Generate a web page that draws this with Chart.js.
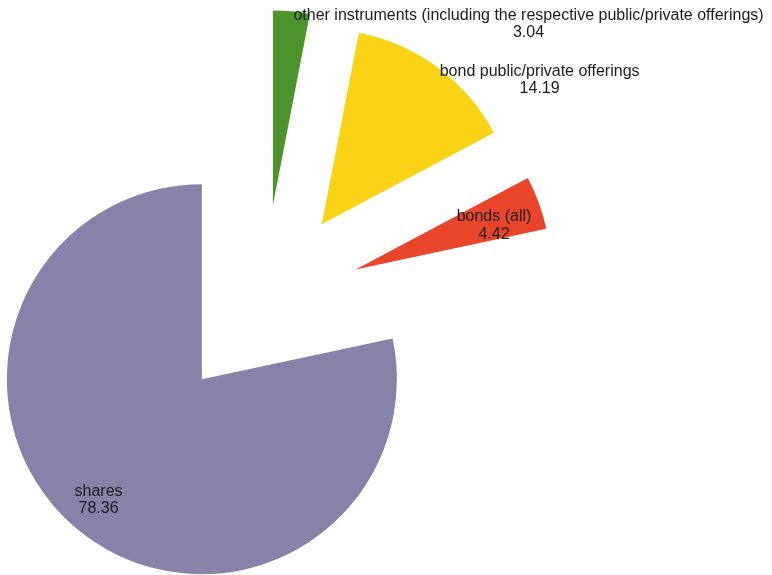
<!DOCTYPE html>
<html>
<head>
<meta charset="utf-8">
<script src="https://cdn.jsdelivr.net/npm/chart.js@4/dist/chart.umd.min.js"></script>
<style>
  html, body { margin:0; padding:0; background:#fff; }
  canvas { display:block; }
</style>
</head>
<body>
<canvas id="pie" width="772" height="575"></canvas>
<script>
// ── Data ────────────────────────────────────────────────────────────────────
const labels = [
  'other instruments (including the respective public/private offerings)',
  'bond public/private offerings',
  'bonds (all)',
  'shares'
];
const values = [3.04, 14.19, 4.42, 78.36];
const colors = ['#4e942d', '#fbd316', '#e8452b', '#8782a8'];

// ── Look ────────────────────────────────────────────────────────────────────
const EXPLODE = 98;          // every slice pushed out from the centre
const FONT = '16px "Liberation Sans", Arial, sans-serif';
const LINE_H = 17.5;
// outside: text block hangs right of the slice rim; at: fraction of radius (+ small nudge)
const labelPlace = [
  { outside:true }, { outside:true },
  { at:0.75, dx:1, dy:6 }, { at:0.81, dx:-4, dy:-2 }
];

const explodeSlices = {
  id: 'explodeSlices',
  beforeDatasetsDraw(chart) {
    const ctx = chart.ctx;
    chart.getDatasetMeta(0).data.forEach(arc => {
      const mid = (arc.startAngle + arc.endAngle) / 2;
      ctx.save();
      ctx.translate(Math.cos(mid) * EXPLODE, Math.sin(mid) * EXPLODE);
      arc.draw(ctx);
      ctx.restore();
    });
    return false;
  },
  afterDraw(chart) {
    const ctx = chart.ctx;
    ctx.save();
    ctx.font = FONT;
    ctx.fillStyle = '#1c1c1c';
    ctx.textAlign = 'center';
    ctx.textBaseline = 'middle';
    chart.getDatasetMeta(0).data.forEach((arc, i) => {
      const mid = (arc.startAngle + arc.endAngle) / 2;
      const cx = arc.x + Math.cos(mid) * EXPLODE, cy = arc.y + Math.sin(mid) * EXPLODE;
      const lines = [labels[i], values[i].toFixed(2)];
      const p = labelPlace[i];
      let x, y;
      if (p.outside) {
        const ox = cx + Math.cos(mid) * arc.outerRadius, oy = cy + Math.sin(mid) * arc.outerRadius;
        const w = Math.max(...lines.map(l => ctx.measureText(l).width));
        x = ox + 2 + w / 2;
        y = oy + 4;
      } else {
        const r = arc.outerRadius * p.at;
        x = cx + Math.cos(mid) * r + (p.dx || 0);
        y = cy + Math.sin(mid) * r - LINE_H / 2 + (p.dy || 0);
      }
      lines.forEach((l, k) => ctx.fillText(l, x, y + k * LINE_H));
    });
    ctx.restore();
  }
};

new Chart(document.getElementById('pie').getContext('2d'), {
  type: 'pie',
  data: {
    labels,
    datasets: [{ data: values, backgroundColor: colors, borderWidth: 0, clip: false }]
  },
  options: {
    responsive: false,
    animation: false,
    radius: 195,
    layout: { padding: { left: 0, right: 245, top: 31, bottom: 0 } },
    plugins: { legend: { display: false }, tooltip: { enabled: false } }
  },
  plugins: [explodeSlices]
});
</script>
</body>
</html>
